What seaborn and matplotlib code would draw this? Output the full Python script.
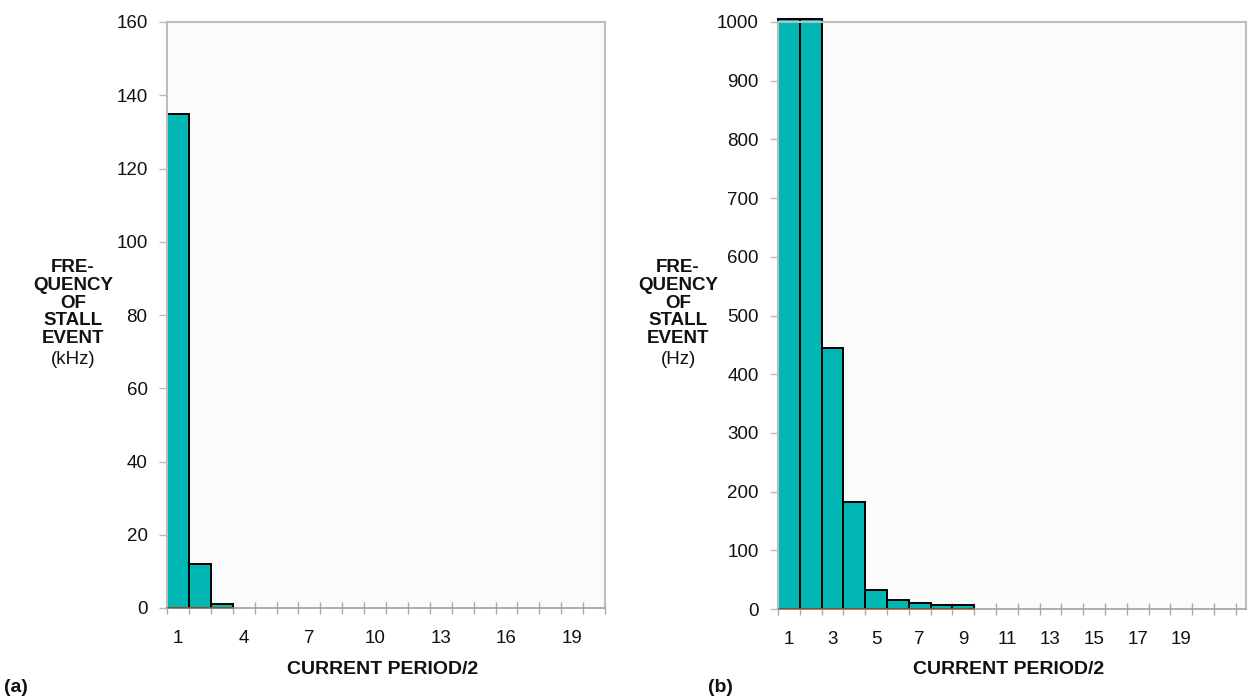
import matplotlib
matplotlib.use("Agg")
import matplotlib.pyplot as plt
import seaborn as sns
import pandas as pd
import numpy as np

# ---- data ----
periods = list(range(1, 21))
freq_a_khz = [135, 12, 1]                          # panel (a), kHz
freq_b_hz = [1005, 1005, 445, 183, 33, 16, 11, 7, 7]  # panel (b), Hz
ticks_a = [1, 4, 7, 10, 13, 16, 19]
ticks_b = [1, 3, 5, 7, 9, 11, 13, 15, 17, 19]
yticks_a = [0, 20, 40, 60, 80, 100, 120, 140, 160]
yticks_b = [0, 100, 200, 300, 400, 500, 600, 700, 800, 900, 1000]

sns.set_theme(style="white")
plt.rcParams['font.family'] = ['Liberation Sans', 'DejaVu Sans']

BAR = "#00B7B3"
GRID = "#BDBDBD"
FS = 13.5

fig = plt.figure(figsize=(12.52, 6.98), dpi=100)
W, H = 1252, 698

def make_ax(l, r, t, b):
    return fig.add_axes([l / W, 1 - b / H, (r - l) / W, (b - t) / H])

ax_a = make_ax(167, 605, 22, 608)
ax_b = make_ax(778, 1246, 22, 609)

def draw(ax, vals, ymax, yticks, xticks, xmax, unit, ylab_x, panel, panel_x):
    df = pd.DataFrame({"period": periods[:len(vals)], "freq": vals})
    sns.barplot(data=df, x="period", y="freq", order=periods, color=BAR,
                edgecolor="black", linewidth=1.4, width=1.0, saturation=1,
                ax=ax, zorder=2)
    for p in ax.patches:
        p.set_clip_on(False)
    n = len(vals)
    ax.hlines(0, -0.5, n - 0.5, color="#8B4A14", lw=2.0, zorder=3)
    ax.set_facecolor("#FBFBFB")
    ax.set_xlim(-0.5, xmax)
    ax.set_ylim(0, ymax)
    ax.set_yticks(yticks)
    ax.set_yticklabels([str(v) for v in yticks], fontsize=FS, color="#111111")
    ax.set_xticks([periods.index(t) for t in xticks])
    ax.set_xticklabels([str(t) for t in xticks], fontsize=FS, color="#111111")
    ax.tick_params(axis="x", which="major", length=0, pad=16)
    ax.set_xticks(np.arange(-0.5, xmax + 0.01, 1.0), minor=True)
    ax.tick_params(axis="x", which="minor", length=9, direction="inout",
                   color="#AAAAAA", width=1.0, bottom=True)
    ax.tick_params(axis="y", which="major", length=6, direction="out",
                   color="#BBBBBB", width=1.0, pad=8, left=True)
    for s in ["top", "right", "left"]:
        ax.spines[s].set_color(GRID)
        ax.spines[s].set_linewidth(1.5)
    ax.spines["bottom"].set_color("#A0A0A0")
    ax.spines["bottom"].set_linewidth(1.2)
    ax.set_xlabel("")
    ax.set_ylabel("")
    # x label
    xc = (ax.get_position().x0 + ax.get_position().x1) / 2
    fig.text(xc - 0.003, 1 - 670 / H, "CURRENT PERIOD/2", ha="center", va="center",
             fontsize=14, fontweight="bold", color="#111111")
    # y label
    fig.text(ylab_x / W, 1 - 303 / H, "FRE-\nQUENCY\nOF\nSTALL\nEVENT",
             ha="center", va="center", fontsize=13.5, fontweight="bold",
             linespacing=1.05, color="#111111")
    fig.text(ylab_x / W, 1 - 360 / H, unit, ha="center", va="center",
             fontsize=13.5, color="#111111")
    fig.text(panel_x / W, 1 - 688 / H, panel, ha="left", va="center",
             fontsize=14, fontweight="bold", color="#111111")

draw(ax_a, freq_a_khz, 160, yticks_a, ticks_a, 19.5, "(kHz)", 73, "(a)", 4)
draw(ax_b, freq_b_hz, 1000, yticks_b, ticks_b, 20.97, "(Hz)", 678, "(b)", 708)

fig.savefig("out.png", dpi=100, facecolor="white")
